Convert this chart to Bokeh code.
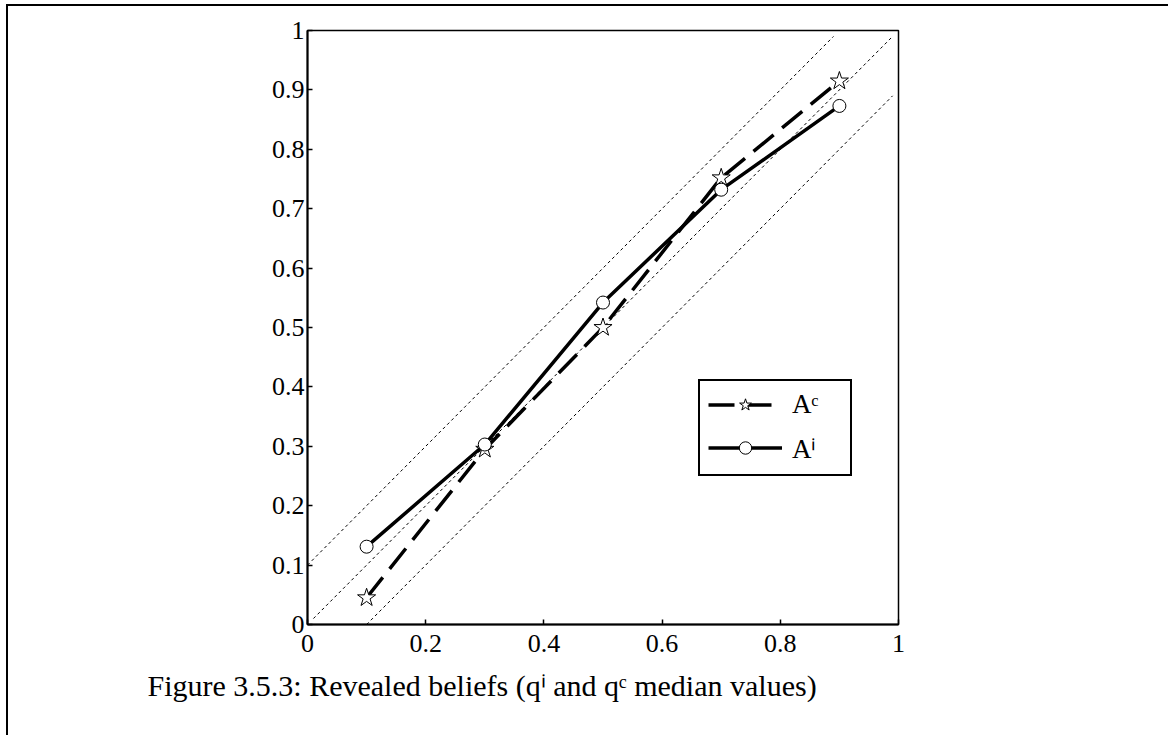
from bokeh.plotting import figure
from bokeh.models import Range1d, FixedTicker, Legend, LegendItem, Title
from bokeh.embed import file_html
from bokeh.resources import INLINE

# ---- data ----
x_vals = [0.1, 0.3, 0.5, 0.7, 0.9]
a_c = [0.045, 0.295, 0.500, 0.752, 0.915]
a_i = [0.131, 0.303, 0.542, 0.732, 0.873]

x_ticks = [0, 0.2, 0.4, 0.6, 0.8, 1]
x_labels = ["0", "0.2", "0.4", "0.6", "0.8", "1"]
y_ticks = [0, 0.1, 0.2, 0.3, 0.4, 0.5, 0.6, 0.7, 0.8, 0.9, 1]
y_labels = ["0", "0.1", "0.2", "0.3", "0.4", "0.5", "0.6", "0.7", "0.8", "0.9", "1"]

upper_x = [0.0, 0.89]
upper_y = [0.1, 0.99]
diag_x = [0.01, 0.99]
diag_y = [0.01, 0.99]
lower_x = [0.1, 0.99]
lower_y = [0.0, 0.89]

label_c = "A\u1d9c"
label_i = "A\u2071"
caption = "Figure 3.5.3: Revealed beliefs (q\u2071 and q\u1d9c median values)"

FONT = "Liberation Serif"

W, H = 1162, 731
p = figure(width=W, height=H, output_backend="svg", toolbar_location=None,
           x_range=Range1d(0, 1), y_range=Range1d(0, 1),
           min_border_left=299, min_border_right=272,
           min_border_top=24, min_border_bottom=113)
p.styles = {"border-left": "2px solid black", "border-top": "2px solid black",
            "margin-left": "6px", "margin-top": "4px"}

p.grid.visible = False
p.outline_line_color = "black"
p.outline_line_width = 1.5
p.outline_line_alpha = 1
p.background_fill_color = "white"
p.border_fill_color = "white"

for ax, ticks, labels in ((p.xaxis, x_ticks, x_labels), (p.yaxis, y_ticks, y_labels)):
    ax.ticker = FixedTicker(ticks=ticks)
    ax.major_label_overrides = dict(zip(ticks, labels))
    ax.axis_line_width = 2
    ax.axis_line_color = "black"
    ax.major_tick_in = 5
    ax.major_tick_out = 0
    ax.major_tick_line_width = 1.5
    ax.minor_tick_in = 0
    ax.minor_tick_out = 0
    ax.major_label_text_font = FONT
    ax.major_label_text_font_size = "26px"
    ax.major_label_text_color = "black"
p.xaxis.major_label_standoff = 10
p.yaxis.major_label_standoff = 3

# reference lines
for xs, ys in ((upper_x, upper_y), (diag_x, diag_y), (lower_x, lower_y)):
    p.line(xs, ys, line_color="black", line_width=1, line_dash="3 3")

# data series
lc = p.line(x_vals, a_c, line_color="black", line_width=3.5, line_dash="26 11")
sc = p.scatter(x_vals, a_c, marker="star", size=19, fill_color="white",
               line_color="black", line_width=1)
li = p.line(x_vals, a_i, line_color="black", line_width=3.5)
si = p.scatter(x_vals, a_i, marker="circle", size=13, fill_color="white",
               line_color="black", line_width=1)

legend = Legend(items=[LegendItem(label=label_c, renderers=[lc, sc]),
                       LegendItem(label=label_i, renderers=[li, si])],
                location=(391, 148))
legend.border_line_color = "black"
legend.border_line_alpha = 1
legend.border_line_width = 2
legend.background_fill_color = "white"
legend.background_fill_alpha = 1
legend.padding = 8
legend.spacing = 9
legend.glyph_width = 74
legend.glyph_height = 31
legend.label_height = 31
legend.label_width = 50
legend.label_standoff = 10
legend.margin = 0
legend.label_text_font = FONT
legend.label_text_font_size = "27px"
legend.label_text_color = "black"
p.add_layout(legend)

cap = Title(text=caption, align="left", offset=-160, standoff=25,
            text_font=FONT, text_font_size="30px", text_color="black",
            text_font_style="normal")
p.add_layout(cap, "below")

open("out.html", "w").write(file_html(p, INLINE))
